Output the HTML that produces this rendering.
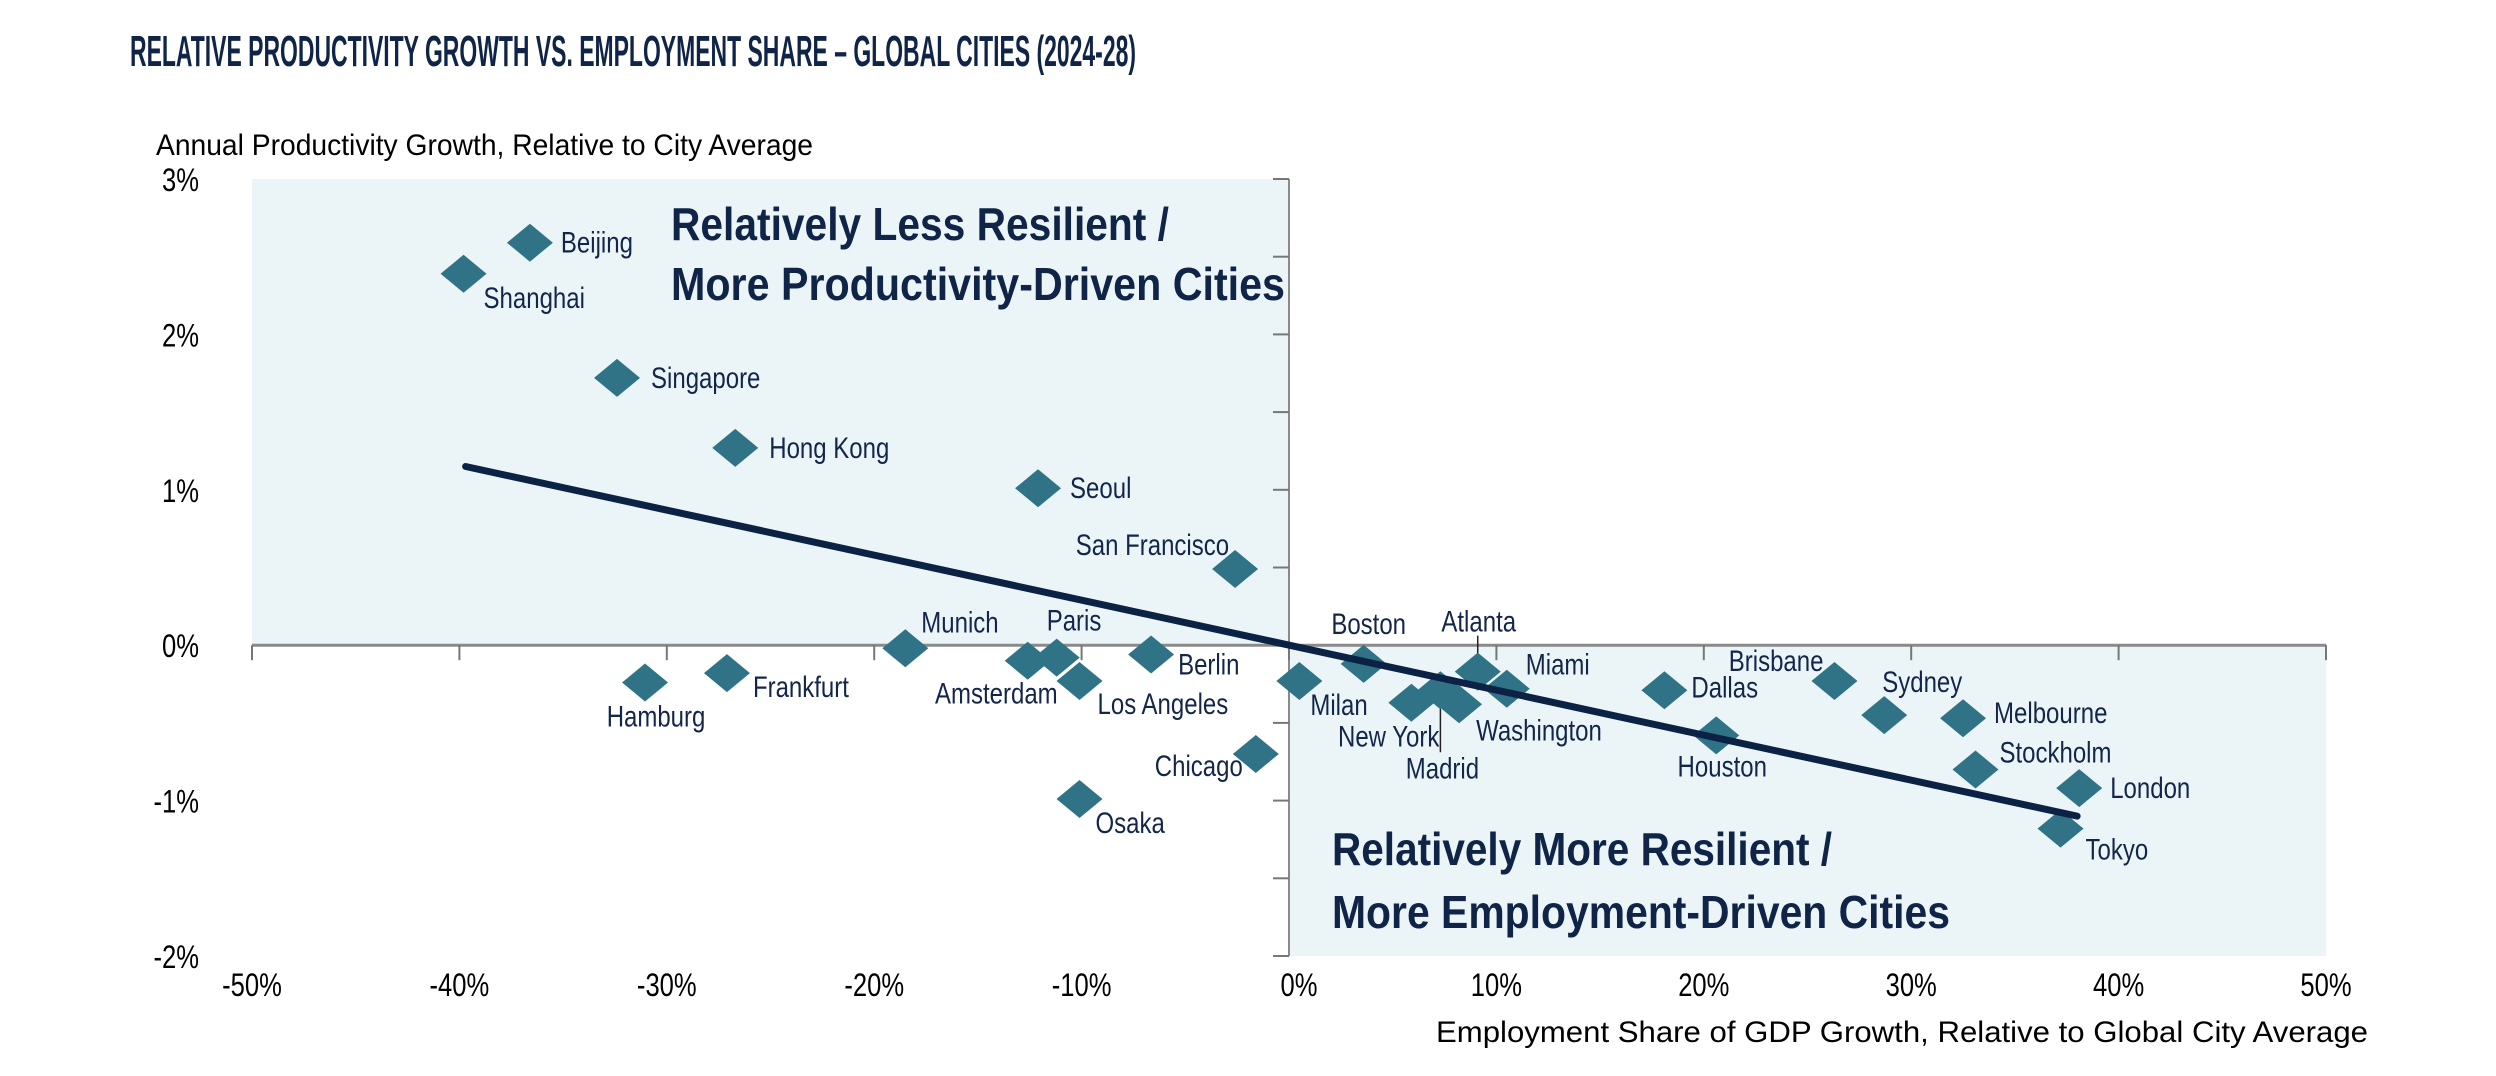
<!DOCTYPE html>
<html><head><meta charset="utf-8"><style>
html,body{margin:0;padding:0;background:#fff;}
svg{display:block;}
text{font-family:"Liberation Sans",Arial,sans-serif;}
</style></head><body>
<svg id="chart" width="2496" height="1076" viewBox="0 0 2496 1076">
<rect x="0" y="0" width="2496" height="1076" fill="#fff"/>
<text x="130" y="66" font-size="44" font-weight="bold" fill="#0f2447" textLength="1006" lengthAdjust="spacingAndGlyphs">RELATIVE PRODUCTIVITY GROWTH VS. EMPLOYMENT SHARE – GLOBAL CITIES (2024-28)</text>
<text x="156" y="155" font-size="30" fill="#000" textLength="657" lengthAdjust="spacingAndGlyphs">Annual Productivity Growth, Relative to City Average</text>
<text x="2368" y="1042" font-size="30" fill="#000" text-anchor="end" textLength="932" lengthAdjust="spacingAndGlyphs">Employment Share of GDP Growth, Relative to Global City Average</text>
<g id="plot"></g>
</svg>
<script>
const cities = ["Beijing","Shanghai","Singapore","Hong Kong","Seoul","San Francisco","Munich","Paris","Amsterdam","Los Angeles","Berlin","Hamburg","Frankfurt","Osaka","Chicago","Milan","Boston","New York","Madrid","Washington","Atlanta","Miami","Dallas","Brisbane","Sydney","Melbourne","Houston","Stockholm","London","Tokyo"];
const employmentShare = [-36.6,-39.8,-32.4,-26.7,-12.1,-2.6,-18.5,-11.2,-12.6,-10.1,-6.65,-31.05,-27.1,-10.1,-1.6,0.5,3.6,5.9,7.3,8.2,9.1,10.5,18.1,26.3,28.7,32.5,20.6,33.1,38.1,37.2];
const productivity = [2.59,2.39,1.72,1.27,1.01,0.49,-0.02,-0.08,-0.10,-0.23,-0.06,-0.24,-0.18,-0.99,-0.70,-0.23,-0.12,-0.37,-0.29,-0.38,-0.17,-0.28,-0.29,-0.23,-0.45,-0.47,-0.58,-0.80,-0.92,-1.18];
const trendX = [-39.7, 38.0];
const trendY = [1.15, -1.10];
const xTicks = [-50,-40,-30,-20,-10,0,10,20,30,40,50];
const yTicks = [3,2,1,0,-1,-2];
const yMinor = [2.5,1.5,0.5,-0.5,-1.5];

const labelPos = {
 "Beijing":[31,0,"start"],"Shanghai":[20,24,"start"],"Singapore":[34,0,"start"],"Hong Kong":[34,0,"start"],
 "Seoul":[32,0,"start"],"San Francisco":[-6,-24,"end"],"Munich":[16,-26,"start"],"Paris":[-10,-37,"start"],
 "Amsterdam":[30,33,"end"],"Los Angeles":[18,23,"start"],"Berlin":[27,10,"start"],"Hamburg":[11,34,"middle"],
 "Frankfurt":[26,14,"start"],"Osaka":[16,24,"start"],"Chicago":[-13,12,"end"],"Milan":[11,24,"start"],
 "Boston":[5,-40,"middle"],"New York":[28,34,"end"],"Madrid":[2,78,"middle"],"Washington":[17,26,"start"],
 "Atlanta":[1,-50,"middle"],"Miami":[19,-24,"start"],"Dallas":[27,-3,"start"],"Brisbane":[-11,-20,"end"],
 "Sydney":[-2,-33,"start"],"Melbourne":[31,-5,"start"],"Houston":[6,31,"middle"],"Stockholm":[24,-17,"start"],
 "London":[31,0,"start"],"Tokyo":[25,21,"start"]
};

const X0=252, X1=2326, Y0=179, Y1=956;
const xS = v => X0 + (v+50)/100*(X1-X0);
const yS = v => Y0 + (3-v)/5*(Y1-Y0);
const NS="http://www.w3.org/2000/svg";
const g=document.getElementById('plot');
function mk(tag,attrs,parent){const e=document.createElementNS(NS,tag);for(const k in attrs)e.setAttribute(k,attrs[k]);(parent||g).appendChild(e);return e;}

const zx=xS(0), zy=yS(0);
let r=mk('rect',{x:X0,y:Y0,width:zx-X0,height:zy-Y0,fill:'#ebf5f8'});


r=mk('rect',{x:zx,y:zy,width:X1-zx,height:Y1-zy,fill:'#ebf5f8'});



let ax=mk('line',{x1:X0,y1:zy,x2:X1,y2:zy,stroke:'#8a8a8a','stroke-width':3});


ax=mk('line',{x1:zx,y1:Y0,x2:zx,y2:Y1,stroke:'#8a8a8a','stroke-width':2});


xTicks.forEach(t=>{
  const tk=mk('line',{x1:xS(t),y1:zy,x2:xS(t),y2:zy+15,stroke:'#777','stroke-width':2});
  
  
  const off = t===0 ? 10 : 0;
  const gg=mk('g',{transform:`translate(${xS(t)+off},996) scale(0.8,1)`});
  const tl=mk('text',{x:0,y:0,'font-size':32,'text-anchor':'middle',fill:'#000'},gg);
  tl.textContent=t+'%';
  
  
});
yTicks.concat(yMinor).forEach(t=>{
  const tk=mk('line',{x1:zx-16,y1:yS(t),x2:zx,y2:yS(t),stroke:'#777','stroke-width':2});
  
  
});
yTicks.forEach(t=>{
  const gg=mk('g',{transform:`translate(199,${yS(t)+12}) scale(0.8,1)`});
  const tl=mk('text',{x:0,y:0,'font-size':32,'text-anchor':'end',fill:'#000'},gg);
  tl.textContent=t+'%';
  
  
});

function ann(txt,x,y,len,name){
  const t=mk('text',{x:x,y:y,'font-size':46,'font-weight':'bold',fill:'#0f2447',textLength:len,lengthAdjust:'spacingAndGlyphs'});
  t.textContent=txt;
  
  
}
ann('Relatively Less Resilient /',671,240,498,'quadrant-label-top-line1');
ann('More Productivity-Driven Cities',671,300,614,'quadrant-label-top-line2');
ann('Relatively More Resilient /',1332,865,500,'quadrant-label-bottom-line1');
ann('More Employment-Driven Cities',1332,928,618,'quadrant-label-bottom-line2');

[["Madrid",12,62],["Atlanta",-36,-4]].forEach(([c,a,b])=>{
  const i=cities.indexOf(c);
  const l=mk('line',{x1:xS(employmentShare[i]),y1:yS(productivity[i])+a,x2:xS(employmentShare[i]),y2:yS(productivity[i])+b,stroke:'#222','stroke-width':1.5});
  
  
});

cities.forEach((c,i)=>{
  const cx=xS(employmentShare[i]), cy=yS(productivity[i]);
  const p=mk('polygon',{points:`${cx-23},${cy} ${cx},${cy-19} ${cx+23},${cy} ${cx},${cy+19}`,fill:'#317386'});
  
  
});

const tl=mk('line',{x1:xS(trendX[0]),y1:yS(trendY[0]),x2:xS(trendX[1]),y2:yS(trendY[1]),stroke:'#0c2244','stroke-width':7,'stroke-linecap':'round'});



cities.forEach((c,i)=>{
  const cx=xS(employmentShare[i]), cy=yS(productivity[i]);
  const [dx,dy,anc]=labelPos[c];
  const gg=mk('g',{transform:`translate(${cx+dx},${cy+dy+10}) scale(0.8,1)`});
  const t=mk('text',{x:0,y:0,'font-size':30,fill:'#14254a','text-anchor':anc},gg);
  t.textContent=c;
  
  
});
</script>
</body></html>
